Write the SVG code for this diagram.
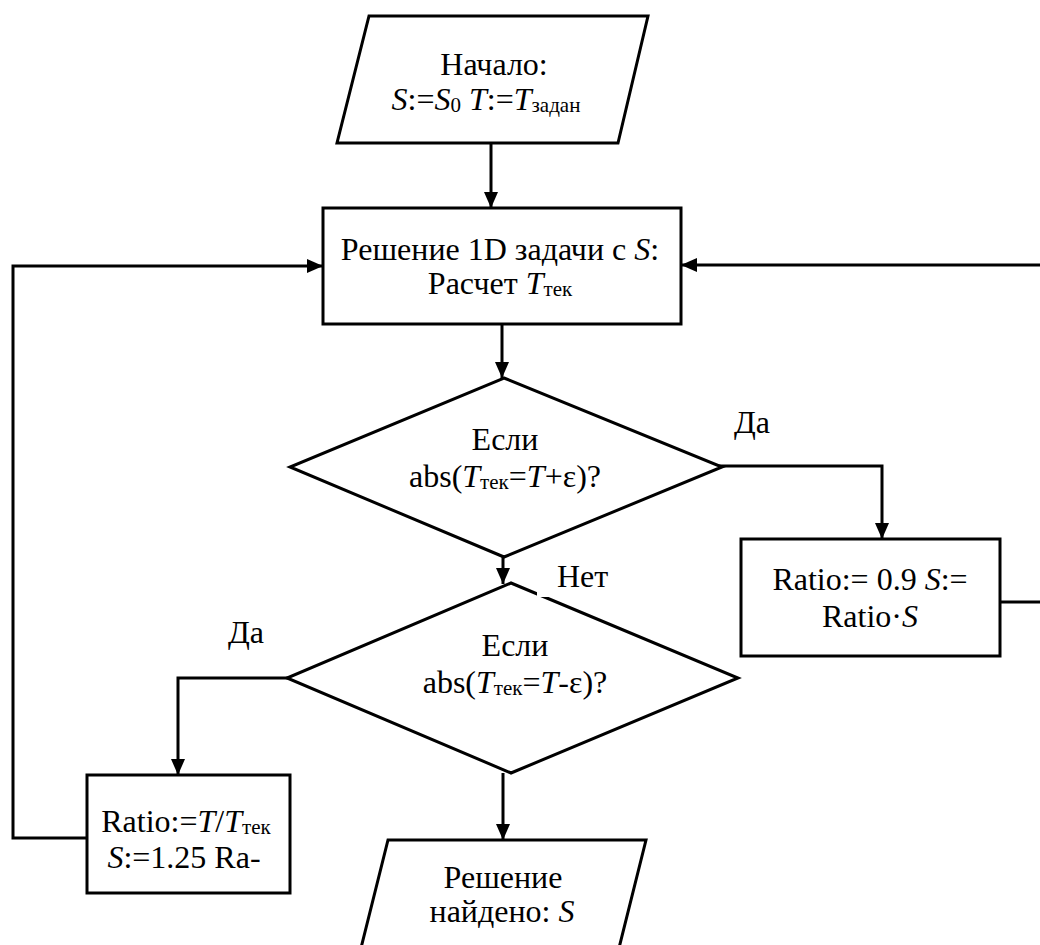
<svg xmlns="http://www.w3.org/2000/svg" width="1040" height="945" viewBox="0 0 1040 945">
<style>
.shape{fill:#fff;stroke:#000;stroke-width:3}
.conn{fill:none;stroke:#000;stroke-width:3}
text{font-family:'Liberation Serif','Tinos','Times New Roman','DejaVu Serif',serif;font-size:32px;fill:#000}
.c{text-anchor:middle}
.i{font-style:italic}
.s{font-size:21px}
</style>
<defs>
<marker id="arr" markerUnits="userSpaceOnUse" markerWidth="16" markerHeight="16" viewBox="0 0 16 16" refX="16" refY="8" orient="auto">
<path d="M0,1 L16,8 L0,15 Z" fill="#000"/>
</marker>
</defs>
<rect width="1040" height="945" fill="#fff"/>

<g id="connectors">
<path class="conn" d="M491,143 V208" marker-end="url(#arr)"/>
<path class="conn" d="M502,324 V378" marker-end="url(#arr)"/>
<path class="conn" d="M705,466 H882 V539" marker-end="url(#arr)"/>
<path class="conn" d="M1000,602 H1046 V265 H681" marker-end="url(#arr)"/>
<path class="conn" d="M503,557 V584" marker-end="url(#arr)"/>
<path class="conn" d="M303,678 H178 V775" marker-end="url(#arr)"/>
<path class="conn" d="M87,838 H13 V266 H323" marker-end="url(#arr)"/>
<path class="conn" d="M503,773 V840" marker-end="url(#arr)"/>
</g>

<g id="start">
<polygon class="shape" points="369,16 648,16 618,143 337,143"/>
<text class="c" x="494" y="75">Начало:</text>
<text class="c" x="486" y="110"><tspan class="i">S</tspan>:=<tspan class="i">S</tspan><tspan class="s" dy="2">0</tspan><tspan dy="-2"> </tspan><tspan class="i">T</tspan>:=<tspan class="i">T</tspan><tspan class="s" dy="2">задан</tspan></text>
</g>

<g id="solve">
<rect class="shape" x="323" y="208" width="358" height="116"/>
<text class="c" x="500" y="260">Решение 1D задачи с <tspan class="i">S</tspan>:</text>
<text class="c" x="500" y="294">Расчет <tspan class="i">T</tspan><tspan class="s" dy="2">тек</tspan></text>
</g>

<g id="cond1">
<polygon class="shape" points="504,378 722,467 504,557 290,467"/>
<text class="c" x="505" y="450">Если</text>
<text class="c" x="505" y="487">abs(<tspan class="i">T</tspan><tspan class="s" dy="2">тек</tspan><tspan dy="-2">=</tspan><tspan class="i">T</tspan>+ε)?</text>
</g>

<g id="label-yes1">
<text x="734" y="433">Да</text>
</g>

<g id="decrease">
<rect class="shape" x="741" y="539" width="259" height="117"/>
<text class="c" x="870" y="590">Ratio:= 0.9 <tspan class="i">S</tspan>:=</text>
<text class="c" x="870" y="627">Ratio·<tspan class="i">S</tspan></text>
</g>

<g id="cond2">
<polygon class="shape" points="511,583 738,678 511,773 287,678"/>
<text class="c" x="515" y="656">Если</text>
<text class="c" x="515" y="693">abs(<tspan class="i">T</tspan><tspan class="s" dy="2">тек</tspan><tspan dy="-2">=</tspan><tspan class="i">T</tspan>-ε)?</text>
</g>

<g id="label-no">
<rect x="537" y="562" width="75" height="35" fill="#fff"/>
<text x="557" y="587">Нет</text>
</g>

<g id="label-yes2">
<text x="228" y="643">Да</text>
</g>

<g id="increase">
<rect class="shape" x="87" y="775" width="203" height="118"/>
<text class="c" x="186" y="832">Ratio:=<tspan class="i">T</tspan>/<tspan class="i">T</tspan><tspan class="s" dy="2">тек</tspan></text>
<text class="c" x="184" y="868"><tspan class="i">S</tspan>:=1.25 Ra-</text>
</g>

<g id="end">
<polygon class="shape" points="388,840 646,840 618,952 360,952"/>
<text class="c" x="503" y="888">Решение</text>
<text class="c" x="502" y="922">найдено: <tspan class="i">S</tspan></text>
</g>
</svg>
